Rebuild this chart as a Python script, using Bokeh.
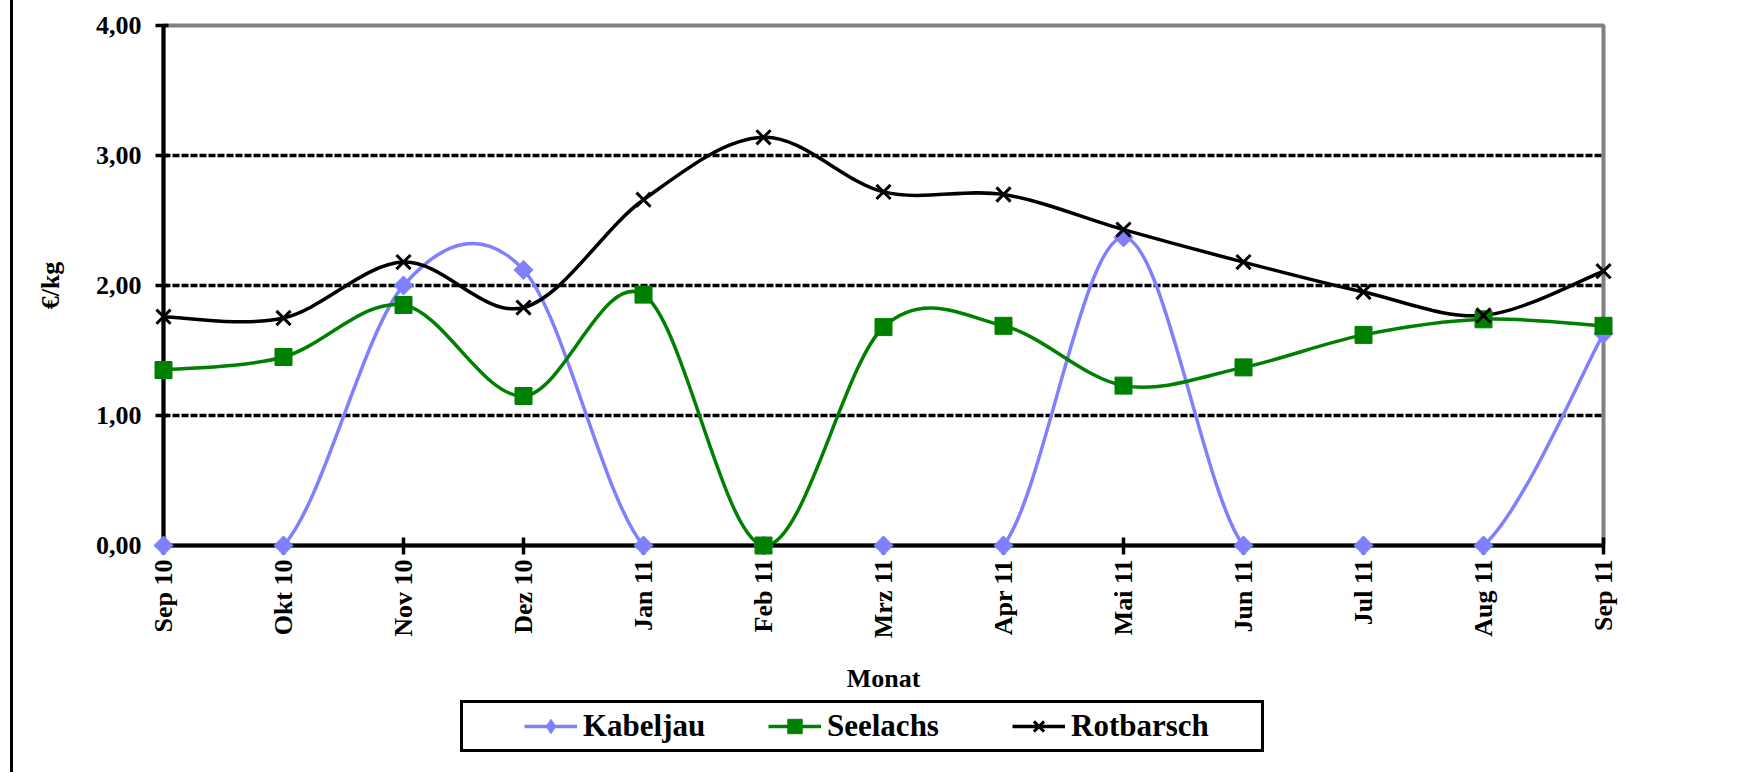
import numpy as np
from bokeh.plotting import figure
from bokeh.layouts import column
from bokeh.models import Legend, LegendItem, FixedTicker, Range1d, ColumnDataSource
from bokeh.embed import file_html
from bokeh.resources import INLINE

# ---- data ----
months = ["Sep 10", "Okt 10", "Nov 10", "Dez 10", "Jan 11", "Feb 11", "Mrz 11",
          "Apr 11", "Mai 11", "Jun 11", "Jul 11", "Aug 11", "Sep 11"]
kabeljau = [0.00, 0.00, 2.00, 2.12, 0.00, 0.00, 0.00, 0.00, 2.37, 0.00, 0.00, 0.00, 1.63]
seelachs = [1.35, 1.45, 1.85, 1.15, 1.93, 0.00, 1.68, 1.69, 1.23, 1.37, 1.62, 1.74, 1.69]
rotbarsch = [1.76, 1.75, 2.18, 1.83, 2.66, 3.14, 2.72, 2.70, 2.43, 2.18, 1.95, 1.77, 2.11]
y_ticks = [0, 1, 2, 3, 4]
y_tick_labels = ["0,00", "1,00", "2,00", "3,00", "4,00"]
y_label = "€/kg"
x_label = "Monat"

FONT = "Liberation Serif"


def smooth(xs, ys):
    """Excel-like smoothed line: cubic Bezier segments through the points."""
    n = len(xs)
    d = dict(x0=[], y0=[], x1=[], y1=[], cx0=[], cy0=[], cx1=[], cy1=[])
    for i in range(n - 1):
        a = i - 1 if i > 0 else i
        b = i + 2 if i + 2 < n else i + 1
        d["x0"].append(xs[i]); d["y0"].append(ys[i])
        d["x1"].append(xs[i + 1]); d["y1"].append(ys[i + 1])
        d["cx0"].append(xs[i] + (xs[i + 1] - xs[a]) / 6.0)
        d["cy0"].append(ys[i] + (ys[i + 1] - ys[a]) / 6.0)
        d["cx1"].append(xs[i + 1] - (xs[b] - xs[i]) / 6.0)
        d["cy1"].append(ys[i + 1] - (ys[b] - ys[i]) / 6.0)
    return ColumnDataSource(d)


xs = list(range(len(months)))

p = figure(frame_width=1440, frame_height=520,
           x_range=Range1d(0, len(months) - 1), y_range=Range1d(y_ticks[0], y_ticks[-1]),
           output_backend="svg", toolbar_location=None,
           min_border_left=150, min_border_right=130, min_border_top=25, min_border_bottom=150)

p.background_fill_color = "white"
p.border_fill_color = "white"
p.outline_line_color = "#808080"
p.outline_line_width = 4

# grid
p.xgrid.visible = False
p.ygrid.ticker = FixedTicker(ticks=y_ticks[1:])
p.ygrid.grid_line_color = "black"
p.ygrid.grid_line_width = 3.5
p.ygrid.grid_line_dash = "7 2"

# axes
for ax in (p.xaxis[0], p.yaxis[0]):
    ax.axis_line_color = "black"
    ax.axis_line_width = 4
    ax.major_tick_line_color = "black"
    ax.major_tick_line_width = 3.5
    ax.minor_tick_line_color = None
    ax.major_label_text_font = FONT
    ax.major_label_text_font_style = "bold"
    ax.major_label_text_font_size = "26px"
    ax.major_label_text_color = "black"
    ax.axis_label_text_font = FONT
    ax.axis_label_text_font_style = "bold"
    ax.axis_label_text_font_size = "26px"
    ax.axis_label_text_color = "black"

p.xaxis.ticker = FixedTicker(ticks=xs)
p.xaxis.major_label_overrides = {i: m for i, m in enumerate(months)}
p.xaxis.major_label_orientation = np.pi / 2
p.xaxis.major_tick_in = 8
p.xaxis.major_tick_out = 9
p.xaxis.major_label_standoff = 5
p.xaxis.axis_label = x_label
p.xaxis.axis_label_standoff = 23

p.yaxis.ticker = FixedTicker(ticks=y_ticks)
p.yaxis.major_label_overrides = {t: l for t, l in zip(y_ticks, y_tick_labels)}
p.yaxis.major_tick_in = 5
p.yaxis.major_tick_out = 8
p.yaxis.major_label_standoff = 14
p.yaxis.axis_label = y_label
p.yaxis.axis_label_standoff = 28

# separate strip that holds the legend below the chart
# (its ranges lie outside the data, so its sample renderers stay hidden)
pl = figure(width=1720, height=76, output_backend="svg", toolbar_location=None,
            x_axis_type=None, y_axis_type=None, min_border=0,
            x_range=Range1d(-20, -10), y_range=Range1d(-20, -10))
pl.outline_line_color = None
pl.xgrid.visible = False
pl.ygrid.visible = False
pl.background_fill_color = "white"
pl.border_fill_color = "white"

# series: name, values, colour, plot marker, size, angle, legend marker
series = [
    ("Kabeljau", kabeljau, "#8080FF", "square", 13.5, np.pi / 4, "diamond"),
    ("Seelachs", seelachs, "#008000", "square", 17, 0.0, "square"),
    ("Rotbarsch", rotbarsch, "black", "x", 20, 0.0, "x"),
]
items = []
for name, vals, color, marker, size, ang, lg_marker in series:
    src_curve = smooth(xs, vals)
    pts_src = ColumnDataSource(dict(x=xs, y=vals))
    p.bezier(x0="x0", y0="y0", x1="x1", y1="y1", cx0="cx0", cy0="cy0",
             cx1="cx1", cy1="cy1", source=src_curve,
             line_color=color, line_width=3.5)
    if marker == "x":
        pts = p.scatter("x", "y", source=pts_src, marker=marker, size=size,
                        line_color=color, line_width=3)
    else:
        pts = p.scatter("x", "y", source=pts_src, marker=marker, size=size, angle=ang,
                        fill_color=color, line_color=color, line_width=1)
    pts.level = "overlay"

    # legend samples in the strip (drawn outside its visible ranges)
    lg_line = pl.line("x", "y", source=pts_src, line_color=color, line_width=3.5)
    if lg_marker == "x":
        lg_pts = pl.scatter("x", "y", source=pts_src, marker=lg_marker, size=size,
                            line_color=color, line_width=3)
    else:
        lg_pts = pl.scatter("x", "y", source=pts_src, marker=lg_marker, size=size,
                            fill_color=color, line_color=color, line_width=1)
    items.append(LegendItem(label=name, renderers=[lg_line, lg_pts]))

legend = Legend(items=items, orientation="horizontal", location=(297, 20),
                title=" ", title_location="left", title_standoff=20,
                title_text_font_size="31px",
                label_width=185, spacing=0, padding=5,
                glyph_width=53, glyph_height=36, label_standoff=6,
                border_line_color="black", border_line_width=3, border_line_alpha=1,
                background_fill_color="white", background_fill_alpha=1,
                label_text_font=FONT, label_text_font_style="bold",
                label_text_font_size="31px", label_text_color="black")
pl.add_layout(legend, "center")

layout = column(p, pl, spacing=0,
                styles={"margin-left": "10px", "border-left": "3px solid black"})

open("out.html", "w").write(file_html(layout, INLINE))
